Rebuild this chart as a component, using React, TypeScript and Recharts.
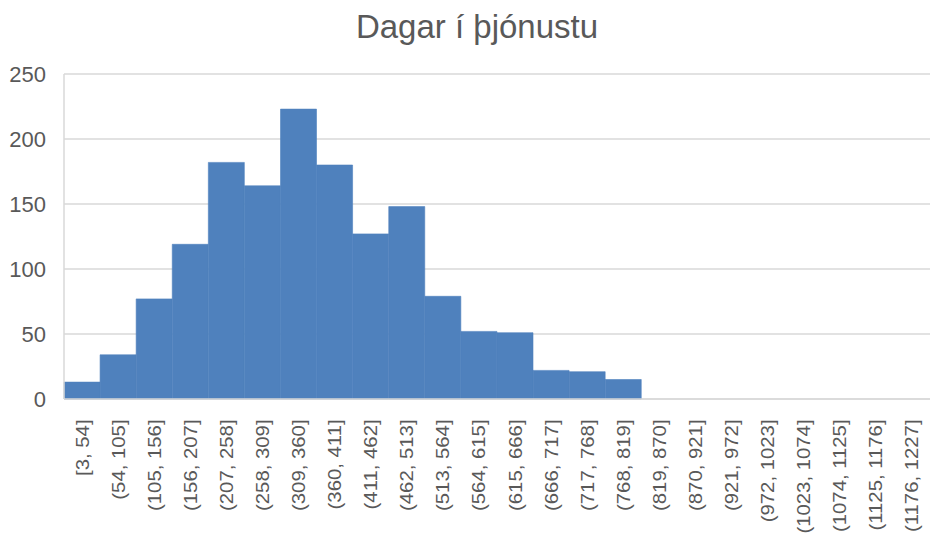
import React from 'react';
import { BarChart, Bar, XAxis, YAxis, CartesianGrid } from 'recharts';

const bins = [
  '[3, 54]', '(54, 105]', '(105, 156]', '(156, 207]', '(207, 258]', '(258, 309]',
  '(309, 360]', '(360, 411]', '(411, 462]', '(462, 513]', '(513, 564]', '(564, 615]',
  '(615, 666]', '(666, 717]', '(717, 768]', '(768, 819]', '(819, 870]', '(870, 921]',
  '(921, 972]', '(972, 1023]', '(1023, 1074]', '(1074, 1125]', '(1125, 1176]', '(1176, 1227]',
];
const counts = [13, 34, 77, 119, 182, 164, 223, 180, 127, 148, 79, 52, 51, 22, 21, 15, 0, 0, 0, 0, 0, 0, 0, 0];
const yTicks = [0, 50, 100, 150, 200, 250];

const data = bins.map((bin, i) => ({ bin, count: counts[i] }));

const FONT = '"Liberation Sans", Arial, sans-serif';
const TEXT = '#595959';

// stretched a little along the text so the labels run as long as Excel's
const BinTick = (props: any) => {
  const { x, y, payload } = props;
  return (
    <g transform={`translate(${x},${y})`}>
      <text
        transform="rotate(-90) scale(1.13,1)"
        x={-11}
        dy="0.36em"
        textAnchor="end"
        fill={TEXT}
        fontSize={18}
        fontFamily={FONT}
      >
        {payload.value}
      </text>
    </g>
  );
};

const App: React.FC = () => {
  return (
    <div style={{ position: 'fixed', left: 0, top: 0, width: 932, height: 538, background: '#fff' }}>
      <div
        style={{
          position: 'absolute', left: 0, width: 954, top: 8, textAlign: 'center',
          fontFamily: FONT, fontSize: 33, color: TEXT,
        }}
      >
        Dagar í þjónustu
      </div>
      <BarChart
        width={932}
        height={538}
        data={data}
        margin={{ top: 74, right: 2, bottom: 0, left: 0 }}
        barCategoryGap={0}
      >
        <CartesianGrid vertical={false} stroke="#d9d9d9" strokeWidth={1.5} />
        <XAxis
          dataKey="bin"
          interval={0}
          height={139}
          tickLine={false}
          axisLine={{ stroke: '#d9d9d9', strokeWidth: 1.5 }}
          tick={<BinTick />}
        />
        <YAxis
          width={64}
          domain={[0, 250]}
          ticks={yTicks}
          tickLine={false}
          axisLine={{ stroke: '#d9d9d9', strokeWidth: 1.5 }}
          tickMargin={12}
          tick={{ fill: TEXT, fontSize: 22, fontFamily: FONT }}
        />
        <Bar dataKey="count" fill="#4f81bd" stroke="#4f81bd" strokeWidth={0.6} isAnimationActive={false} />
      </BarChart>
    </div>
  );
};

export default App;
